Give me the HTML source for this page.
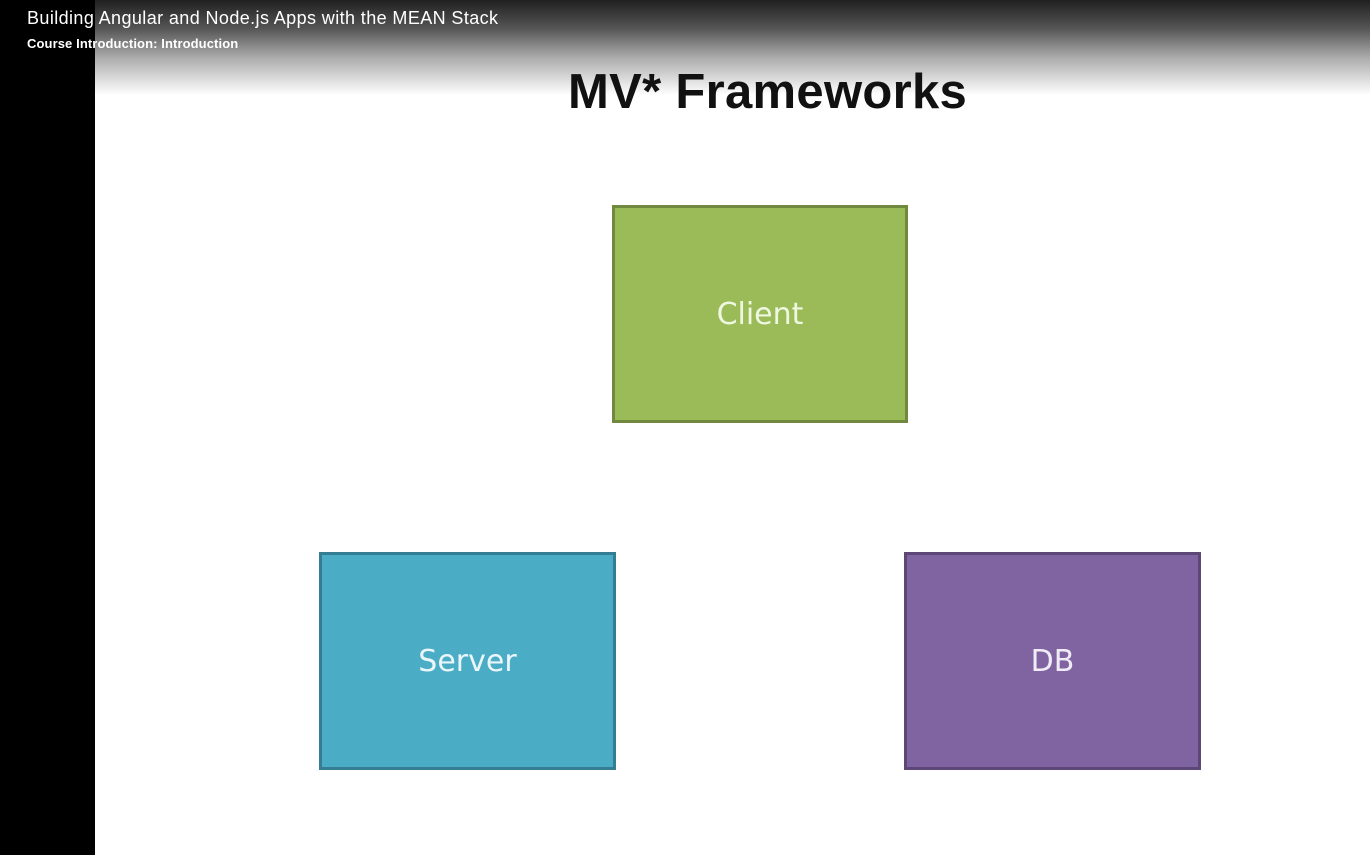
<!DOCTYPE html>
<html><head><style>
body{margin:0;width:1370px;height:855px;overflow:hidden;background:#fff;position:relative;font-family:"Liberation Sans",sans-serif}
.lb{position:absolute;left:0;top:0;width:95px;height:855px;background:#000}
.grad{position:absolute;left:95px;top:0;width:1275px;height:95px;background:linear-gradient(#202020 0%,#555 30%,#aaa 60%,#fff 100%)}
.t1{position:absolute;left:27px;top:8px;color:#fff;font-size:18px;letter-spacing:0.4px}
.t2{position:absolute;left:27px;top:36px;color:#fff;font-size:13px;font-weight:bold;letter-spacing:0.1px}
h1{position:absolute;left:568px;top:64px;margin:0;font-size:49px;font-weight:bold;color:#111;letter-spacing:0.3px}
.b{position:absolute;box-sizing:border-box;border:3px solid;display:flex;align-items:center;justify-content:center;font-family:"Comic Sans MS","DejaVu Sans",sans-serif;font-size:30px;color:#eef7e0}
</style></head><body>
<div class="lb"></div><div class="grad"></div>
<div class="t1">Building Angular and Node.js Apps with the MEAN Stack</div>
<div class="t2">Course Introduction: Introduction</div>
<h1>MV* Frameworks</h1>
<div class="b" style="left:612px;top:205px;width:296px;height:218px;background:#9bbb59;border-color:#71893f">Client</div>
<div class="b" style="left:319px;top:552px;width:297px;height:218px;background:#4bacc6;border-color:#357d92;color:#eaf6fa">Server</div>
<div class="b" style="left:904px;top:552px;width:297px;height:218px;background:#8064a2;border-color:#5c4776;color:#f0ecf6">DB</div>
</body></html>
